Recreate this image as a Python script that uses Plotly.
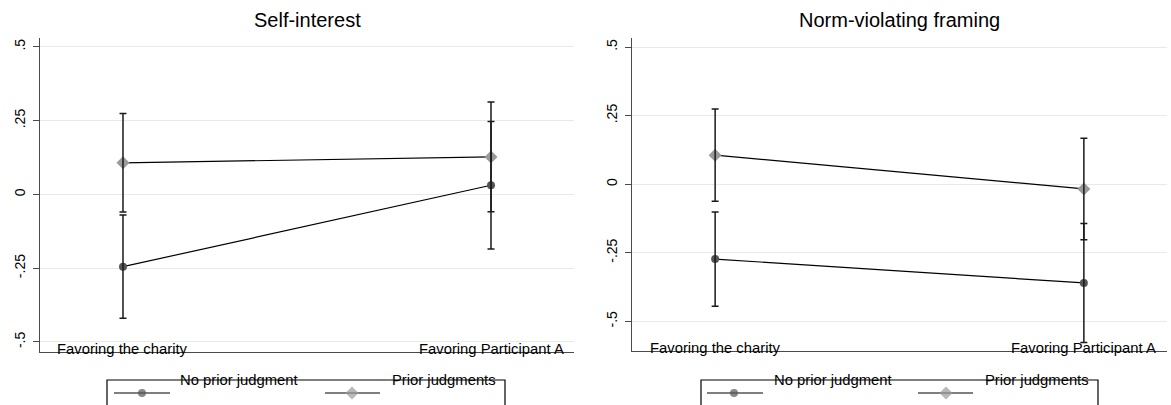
import plotly.graph_objects as go

W, H = 1171, 405

# ---- data -------------------------------------------------------------
categories = ["Favoring the charity", "Favoring Participant A"]
panel_titles = ["Self-interest", "Norm-violating framing"]
series_names = ["No prior judgment", "Prior judgments"]

# Self-interest panel: means and 95% CI half-widths
self_no_prior = [-0.245, 0.031]
self_no_prior_ci = [0.175, 0.216]
self_prior = [0.107, 0.127]
self_prior_ci = [0.167, 0.186]

# Norm-violating framing panel
norm_no_prior = [-0.273, -0.360]
norm_no_prior_ci = [0.172, 0.217]
norm_prior = [0.106, -0.017]
norm_prior_ci = [0.168, 0.185]

ytick_vals = [0.5, 0.25, 0, -0.25, -0.5]
ytick_text = [".5", ".25", "0", "-.25", "-.5"]

# ---- styling ----------------------------------------------------------
FONT = "Liberation Sans, Arial, sans-serif"
NO_PRIOR_COLOR = "#555555"
PRIOR_COLOR = "#9a9a9a"
AXIS_COLOR = "#4a4a4a"
GRID_COLOR = "#e9e9e9"


def px_x(p):
    return p / W


def px_y(p):
    return 1 - p / H


fig = go.Figure()

xpos = [0, 1]
panels = [
    ("x", "y", self_no_prior, self_no_prior_ci, self_prior, self_prior_ci),
    ("x2", "y2", norm_no_prior, norm_no_prior_ci, norm_prior, norm_prior_ci),
]

for xa, ya, nop, nop_ci, pr, pr_ci in panels:
    # connected means
    fig.add_trace(go.Scatter(
        x=xpos, y=nop, xaxis=xa, yaxis=ya, mode="lines+markers",
        line=dict(color="black", width=1.2),
        marker=dict(symbol="circle", size=8, color=NO_PRIOR_COLOR,
                    line=dict(width=0)),
        showlegend=False, hoverinfo="skip"))
    fig.add_trace(go.Scatter(
        x=xpos, y=pr, xaxis=xa, yaxis=ya, mode="lines+markers",
        line=dict(color="black", width=1.2),
        marker=dict(symbol="diamond", size=10, color=PRIOR_COLOR,
                    line=dict(width=0)),
        showlegend=False, hoverinfo="skip"))
    # confidence intervals drawn above the markers
    for vals, ci in ((nop, nop_ci), (pr, pr_ci)):
        fig.add_trace(go.Scatter(
            x=xpos, y=vals, xaxis=xa, yaxis=ya, mode="markers",
            marker=dict(size=1, opacity=0),
            error_y=dict(type="data", array=ci, symmetric=True,
                         color="#1a1a1a", thickness=1.5, width=3.5),
            showlegend=False, hoverinfo="skip"))

# ---- axes -------------------------------------------------------------
x_range = [-0.2255, 1.2255]
common_x = dict(range=x_range, showgrid=False, zeroline=False,
                showline=True, linecolor=AXIS_COLOR, linewidth=1.2,
                showticklabels=False, ticks="", fixedrange=True)
common_y = dict(tickvals=ytick_vals, ticktext=ytick_text, tickangle=-90,
                ticks="outside", ticklen=6, tickwidth=1.2, tickcolor=AXIS_COLOR,
                ticklabelstandoff=2,
                showline=True, linecolor=AXIS_COLOR, linewidth=1.2,
                showgrid=True, gridcolor=GRID_COLOR, gridwidth=1,
                zeroline=False, fixedrange=True,
                tickfont=dict(size=14, color="black", family=FONT))

fig.update_layout(
    xaxis=dict(domain=[px_x(40), px_x(574)], anchor="y", **common_x),
    xaxis2=dict(domain=[px_x(632), px_x(1167)], anchor="y2", **common_x),
    yaxis=dict(domain=[px_y(352), px_y(38)], range=[-0.534, 0.53],
               anchor="x", **common_y),
    yaxis2=dict(domain=[px_y(351), px_y(38)], range=[-0.608, 0.533],
                anchor="x2", **common_y),
    # overlay axis in pixel units for the legend keys
    xaxis3=dict(domain=[0, 1], range=[0, W], visible=False, anchor="y3",
                fixedrange=True),
    yaxis3=dict(domain=[0, 1], range=[H, 0], visible=False, anchor="x3",
                fixedrange=True),
    width=W, height=H,
    margin=dict(l=0, r=0, t=0, b=0),
    paper_bgcolor="white", plot_bgcolor="rgba(0,0,0,0)",
    font=dict(family=FONT, color="black"),
    showlegend=False,
)

annotations = []
shapes = []

# panel titles
for xa_dom, title in ((fig.layout.xaxis.domain, panel_titles[0]),
                      (fig.layout.xaxis2.domain, panel_titles[1])):
    annotations.append(dict(
        text=title, x=(xa_dom[0] + xa_dom[1]) / 2, y=px_y(20),
        xref="paper", yref="paper", xanchor="center", yanchor="middle",
        showarrow=False, font=dict(size=20, color="black", family=FONT)))

# category labels sitting on the x axis line
for xr, ypix in (("x", 349), ("x2", 348)):
    for xv, lab in zip(xpos, categories):
        annotations.append(dict(
            text=lab, x=xv, y=px_y(ypix), xref=xr, yref="paper",
            xanchor="center", yanchor="middle", showarrow=False,
            font=dict(size=14.8, color="black", family=FONT)))

# legends (one per panel)
legend_specs = [
    dict(box=(107, 505), keys=[(114, 142, 170), (325, 352, 380)],
         text=[178, 390]),
    dict(box=(701, 1098), keys=[(707, 734, 763), (918, 946, 973)],
         text=[772, 983]),
]
key_y = 393
box_top = 380
for spec in legend_specs:
    bl, br = spec["box"]
    shapes.append(dict(type="rect", xref="paper", yref="paper",
                       x0=px_x(bl), x1=px_x(br), y0=px_y(box_top), y1=px_y(H + 20),
                       line=dict(color="black", width=1.2),
                       fillcolor="rgba(0,0,0,0)", layer="above"))
    for (k0, km, k1), sym, col, sz in zip(
            spec["keys"], ["circle", "diamond"],
            [NO_PRIOR_COLOR, PRIOR_COLOR], [8, 10]):
        fig.add_trace(go.Scatter(
            x=[k0, km, k1], y=[key_y] * 3, xaxis="x3", yaxis="y3",
            mode="lines+markers", line=dict(color="black", width=1.2),
            marker=dict(symbol=sym, size=[0, sz, 0], color=col,
                        line=dict(width=0)),
            showlegend=False, hoverinfo="skip", cliponaxis=False))
    for tx, name in zip(spec["text"], series_names):
        annotations.append(dict(
            text=name, x=px_x(tx), y=px_y(380), xref="paper", yref="paper",
            xanchor="left", yanchor="middle", showarrow=False,
            font=dict(size=14.8, color="black", family=FONT)))

fig.update_layout(annotations=annotations, shapes=shapes)

fig.write_html("out.html")
